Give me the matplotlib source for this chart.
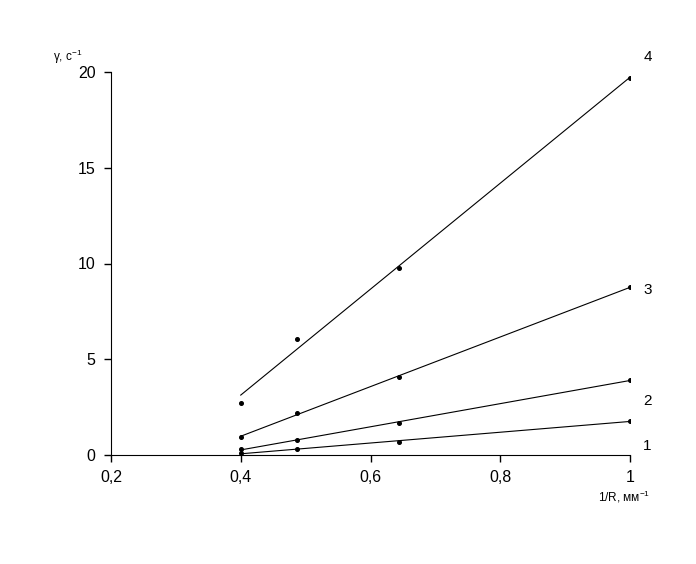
import matplotlib.pyplot as plt
import numpy as np

plt.rcParams['font.family'] = ['Liberation Sans', 'DejaVu Sans']
plt.rcParams['mathtext.fontset'] = 'custom'
plt.rcParams['mathtext.rm'] = 'Liberation Sans'
plt.rcParams['mathtext.default'] = 'regular'

inv_r = [0.4, 0.486, 0.644, 1.0]
gamma_1 = [0.10, 0.31, 0.68, 1.78]
gamma_2 = [0.31, 0.78, 1.67, 3.92]
gamma_3 = [0.94, 2.19, 4.07, 8.77]
gamma_4 = [2.72, 6.06, 9.77, 19.69]
curve_labels = ['1', '2', '3', '4']
xticks = [0.2, 0.4, 0.6, 0.8, 1.0]
xtick_labels = ['0,2', '0,4', '0,6', '0,8', '1']
yticks = [0, 5, 10, 15, 20]

fig = plt.figure(figsize=(6.96, 5.64), dpi=100)
ax = fig.add_axes([111 / 696, 1 - 455 / 564, 519 / 696, 383 / 564])

label_y = [0.45, 2.8, 8.6, 20.8]
x = np.array(inv_r)
for ys, lab, ly in zip([gamma_1, gamma_2, gamma_3, gamma_4], curve_labels, label_y):
    k, b = np.polyfit(x, ys, 1)
    ax.plot([x[0], x[-1]], [k * x[0] + b, k * x[-1] + b], color='black', lw=0.8)
    ax.plot(x, ys, 'o', color='black', ms=2.6)
    ax.text(1.027, ly, lab, fontsize=11, ha='center', va='center', clip_on=False)

ax.set_xlim(0.2, 1.0)
ax.set_ylim(0, 20)
ax.set_xticks(xticks)
ax.set_xticklabels(xtick_labels)
ax.set_yticks(yticks)
ax.spines['top'].set_visible(False)
ax.spines['right'].set_visible(False)
ax.tick_params(direction='out', length=5, width=1, labelsize=11.5, pad=6)
ax.text(-0.112, 1.04, 'γ, с$^{-1}$', transform=ax.transAxes, fontsize=8.5, ha='left', va='center')
ax.text(0.988, -0.11, '1/R, мм$^{-1}$', transform=ax.transAxes, fontsize=8.5, ha='center', va='center')

fig.savefig('out.png', dpi=100)
